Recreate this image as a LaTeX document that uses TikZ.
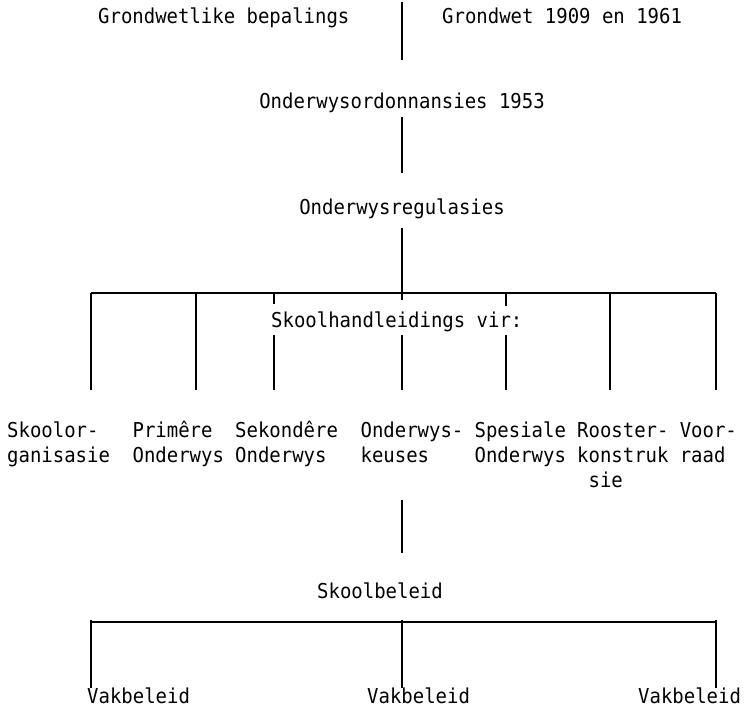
\documentclass[tikz,border=0pt]{standalone}
\usepackage{fontspec}
\newfontfamily\tw[FakeStretch=0.925]{DejaVu Sans Mono}
\begin{document}
\begin{tikzpicture}[x=1pt,y=-1pt,
  lbl/.style={anchor=base west,inner sep=0pt,font=\tw\fontsize{20.5}{24}\selectfont},
  clbl/.style={lbl,anchor=base},
  ln/.style={line width=1.6pt},
  bar/.style={line width=1.3pt}]
\useasboundingbox (0,0) rectangle (746,709);

% top level
\node[lbl] (gb) at (98,24) {Grondwetlike bepalings};
\node[lbl] (gw) at (442,24) {Grondwet 1909 en 1961};
\coordinate (l1a) at (402,2);
\coordinate (l1b) at (402,60);
\draw[ln] (l1a) -- (l1b);

\node[clbl] (oo) at (402,108) {Onderwysordonnansies 1953};
\coordinate (l2a) at (402,117);
\coordinate (l2b) at (402,173);
\draw[ln] (l2a) -- (l2b);

\node[clbl] (or) at (402,214) {Onderwysregulasies};
\coordinate (l3a) at (402,228);
\coordinate (l3b) at (402,300);
\draw[ln] (l3a) -- (l3b);

% first bar
\coordinate (b1l) at (91,293);
\coordinate (b1r) at (716,293);
\draw[bar] (b1l) -- (b1r);

\node[lbl] (sh) at (271,327) {Skoolhandleidings vir:};

% full drops
\foreach \x/\n in {91/a,196/b,610/f,716/g}{
  \coordinate (d\n t) at (\x,293);
  \coordinate (d\n b) at (\x,390);
  \draw[ln] (d\n t) -- (d\n b);
}
% interrupted drops
\foreach \x/\n/\e in {274/c/304,506/e/306}{
  \coordinate (d\n t) at (\x,293);
  \coordinate (d\n m) at (\x,\e);
  \draw[ln] (d\n t) -- (d\n m);
}
\foreach \x/\n in {274/c,402/d,506/e}{
  \coordinate (d\n u) at (\x,335);
  \coordinate (d\n b) at (\x,390);
  \draw[ln] (d\n u) -- (d\n b);
}

% bottom labels (typewriter grid)
\node[lbl] (s1a) at (7,437) {Skoolor-};
\node[lbl] (s1b) at (7,462) {ganisasie};
\node[lbl] (s2a) at (132.4,437) {Primêre};
\node[lbl] (s2b) at (132.4,462) {Onderwys};
\node[lbl] (s3a) at (235,437) {Sekondêre};
\node[lbl] (s3b) at (235,462) {Onderwys};
\node[lbl] (s4a) at (360.4,437) {Onderwys-};
\node[lbl] (s4b) at (360.4,462) {keuses};
\node[lbl] (s5a) at (474.4,437) {Spesiale};
\node[lbl] (s5b) at (474.4,462) {Onderwys};
\node[lbl] (s6a) at (577,437) {Rooster-};
\node[lbl] (s6b) at (577,462) {konstruk};
\node[lbl] (s6c) at (588.4,487) {sie};
\node[lbl] (s7a) at (679.6,437) {Voor-};
\node[lbl] (s7b) at (679.6,462) {raad};

\coordinate (l4a) at (402,500);
\coordinate (l4b) at (402,553);
\draw[ln] (l4a) -- (l4b);

\node[lbl] (sb) at (317,598) {Skoolbeleid};

\coordinate (b2l) at (91,622);
\coordinate (b2r) at (716,622);
\draw[bar] (b2l) -- (b2r);
\foreach \x/\n in {91/a,402/b,716/c}{
  \coordinate (v\n t) at (\x,620);
  \coordinate (v\n b) at (\x,688);
  \draw[ln] (v\n t) -- (v\n b);
}

\node[lbl] (vb1) at (87,703) {Vakbeleid};
\node[lbl] (vb2) at (367,703) {Vakbeleid};
\node[lbl] (vb3) at (638,703) {Vakbeleid};
\end{tikzpicture}
\end{document}
